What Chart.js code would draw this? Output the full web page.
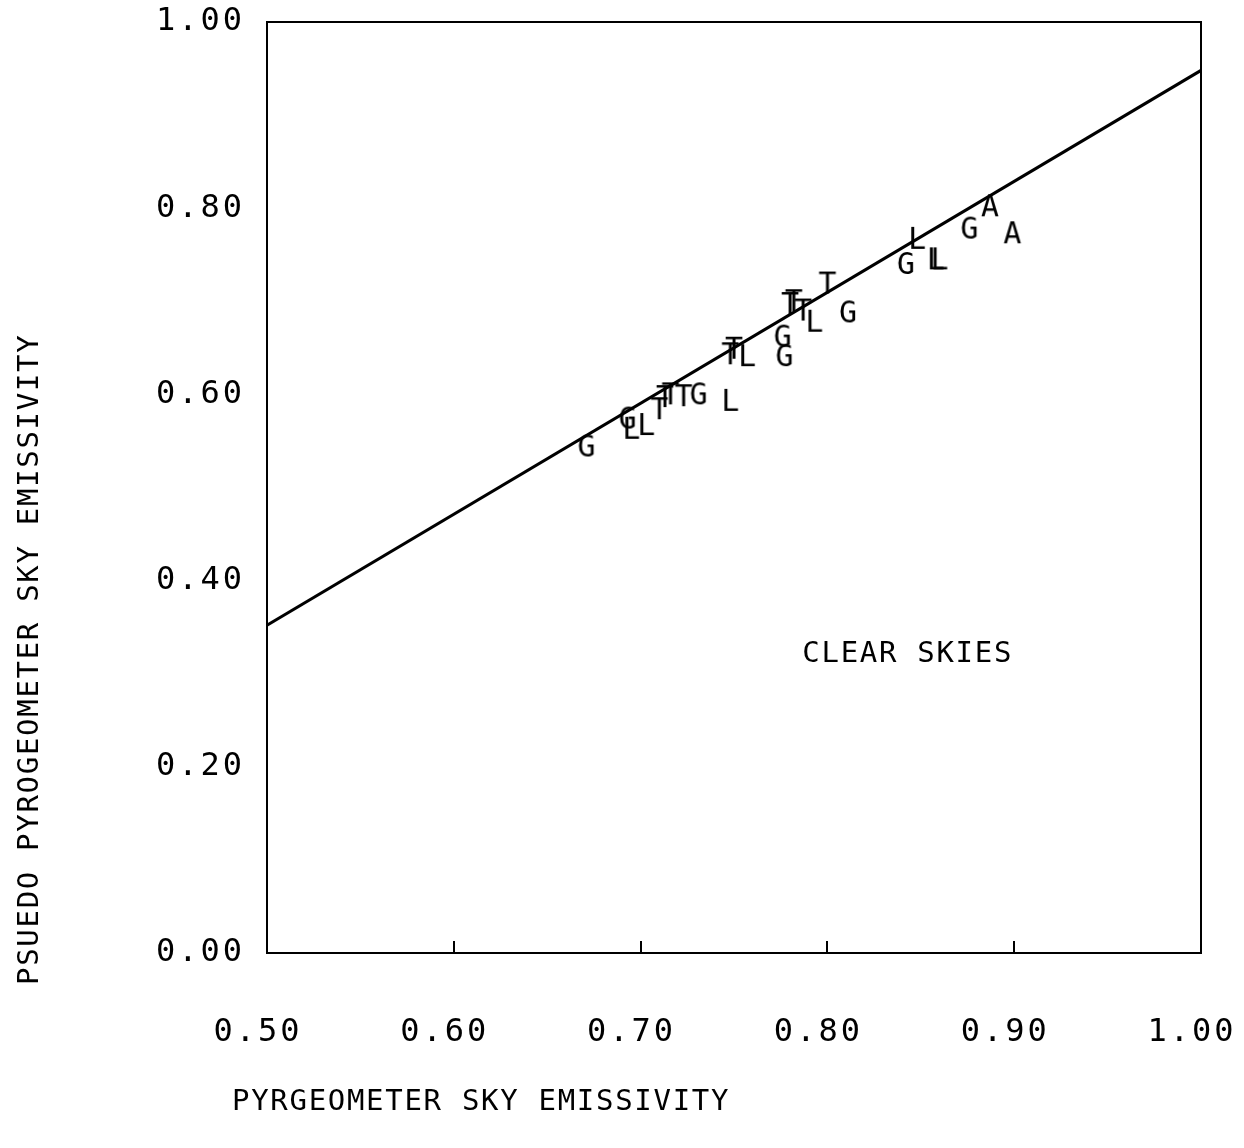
<!DOCTYPE html>
<html>
<head>
<meta charset="utf-8">
<script src="https://cdn.jsdelivr.net/npm/chart.js@4/dist/chart.umd.min.js"></script>
<style>
html, body { margin: 0; padding: 0; background: #fff; }
#wrap { width: 1244px; height: 1148px; }
</style>
</head>
<body>
<div id="wrap"><canvas id="chart" width="1244" height="1148"></canvas></div>
<script>
// tick labels
const xTickLabels = ["0.50", "0.60", "0.70", "0.80", "0.90", "1.00"];
const yTickLabels = ["0.00", "0.20", "0.40", "0.60", "0.80", "1.00"];

// plotted letters, one series per site letter
const gX = [0.671, 0.693, 0.731, 0.776, 0.777, 0.811, 0.842, 0.876];
const gY = [0.543, 0.573, 0.599, 0.661, 0.640, 0.687, 0.739, 0.777];
const lX = [0.695, 0.703, 0.748, 0.757, 0.793, 0.848, 0.858, 0.860];
const lY = [0.562, 0.566, 0.592, 0.640, 0.677, 0.766, 0.744, 0.744];
const tX = [0.710, 0.713, 0.716, 0.723, 0.748, 0.750, 0.780, 0.782, 0.787, 0.800];
const tY = [0.583, 0.596, 0.599, 0.597, 0.642, 0.648, 0.696, 0.699, 0.689, 0.718];
const aX = [0.887, 0.899];
const aY = [0.801, 0.772];

// fitted line
const fitX = [0.50, 1.00];
const fitY = [0.352, 0.948];

const noteText = "CLEAR SKIES";
const noteX = 0.843, noteY = 0.321;
const xTitle = "PYRGEOMETER SKY EMISSIVITY";
const yTitle = "PSUEDO PYROGEOMETER SKY EMISSIVITY";

const FONT = "'DejaVu Sans Mono', monospace";

function pts(xs, ys) {
  return xs.map((x, i) => ({ x, y: ys[i] }));
}

function glyph(letter) {
  const c = document.createElement("canvas");
  c.width = 26;
  c.height = 32;
  const g = c.getContext("2d");
  g.font = "30px " + FONT;
  g.fillStyle = "#000";
  g.textAlign = "center";
  g.textBaseline = "middle";
  g.fillText(letter, 13, 17);
  return c;
}

function letterSet(letter, xs, ys) {
  return {
    type: "scatter",
    label: letter,
    data: pts(xs, ys),
    pointStyle: glyph(letter),
    pointRadius: 12,
    showLine: false
  };
}

const spacing = {
  id: "spacing",
  beforeLayout(chart) { chart.ctx.letterSpacing = "3px"; },
  beforeDraw(chart) { chart.ctx.letterSpacing = "3px"; }
};

const frame = {
  id: "frame",
  beforeDatasetsDraw(chart) {
    const { ctx, chartArea: a } = chart;
    ctx.save();
    ctx.strokeStyle = "#000";
    ctx.lineWidth = 2;
    ctx.strokeRect(a.left, a.top, a.right - a.left, a.bottom - a.top);
    ctx.restore();
  },
  afterDraw(chart) {
    const { ctx, chartArea: a, scales } = chart;
    ctx.save();
    ctx.fillStyle = "#000";
    ctx.font = "29px " + FONT;
    ctx.letterSpacing = "1.7px";
    ctx.textBaseline = "middle";

    ctx.textAlign = "center";
    ctx.fillText(noteText, scales.x.getPixelForValue(noteX), scales.y.getPixelForValue(noteY));

    ctx.textAlign = "left";
    ctx.fillText(xTitle, a.left - 35, a.bottom + 149);

    ctx.translate(a.left - 237, a.bottom + 32);
    ctx.rotate(-Math.PI / 2);
    ctx.fillText(yTitle, 0, 0);
    ctx.restore();
  }
};

new Chart(document.getElementById("chart"), {
  data: {
    datasets: [
      {
        type: "line",
        label: "fit",
        data: pts(fitX, fitY),
        borderColor: "#000",
        borderWidth: 3,
        pointRadius: 0,
        fill: false,
        tension: 0
      },
      letterSet("G", gX, gY),
      letterSet("L", lX, lY),
      letterSet("T", tX, tY),
      letterSet("A", aX, aY)
    ]
  },
  options: {
    responsive: false,
    animation: false,
    layout: { padding: { top: 22, right: 43, left: 0, bottom: 0 } },
    plugins: {
      legend: { display: false },
      tooltip: { enabled: false }
    },
    scales: {
      x: {
        type: "linear",
        position: "bottom",
        min: 0.5,
        max: 1.0,
        afterFit: s => {
          s.height = 195;
          s.paddingLeft = 0;
          s.paddingRight = 0;
        },
        ticks: {
          stepSize: 0.1,
          autoSkip: false,
          maxRotation: 0,
          padding: 72,
          labelOffset: -9,
          color: "#000",
          font: { family: FONT, size: 32 },
          callback: (v, i) => xTickLabels[i]
        },
        grid: {
          drawOnChartArea: false,
          drawTicks: true,
          tickLength: -12,
          color: "#000",
          lineWidth: 2
        },
        border: { display: true, color: "#000", width: 2 }
      },
      y: {
        type: "linear",
        min: 0,
        max: 1,
        afterFit: s => {
          s.width = 267;
          s.paddingTop = 0;
          s.paddingBottom = 0;
        },
        ticks: {
          stepSize: 0.2,
          padding: 22,
          color: "#000",
          font: { family: FONT, size: 32 },
          callback: (v, i) => yTickLabels[i]
        },
        grid: { drawOnChartArea: false, drawTicks: false },
        border: { display: true, color: "#000", width: 2 }
      }
    }
  },
  plugins: [spacing, frame]
});
</script>
</body>
</html>
